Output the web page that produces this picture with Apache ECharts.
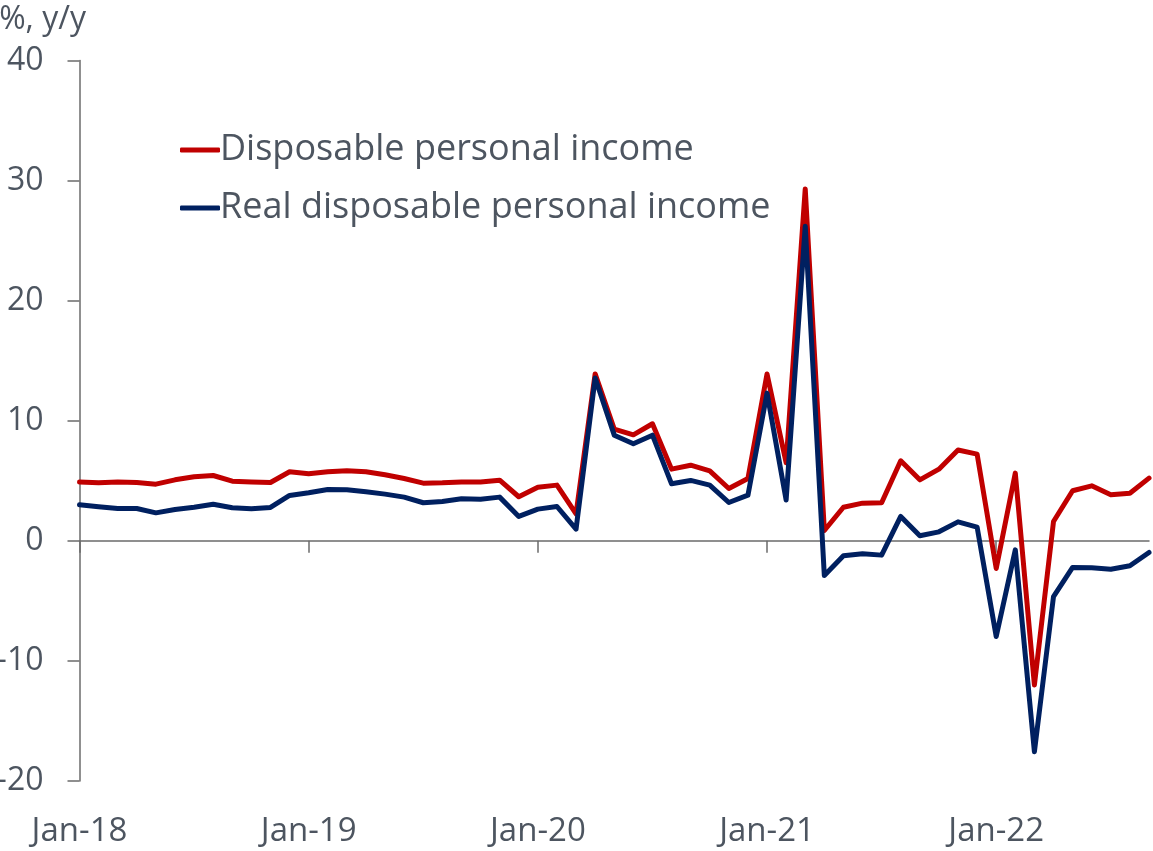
<!DOCTYPE html>
<html>
<head>
<meta charset="utf-8">
<script src="https://cdn.jsdelivr.net/npm/echarts@6/dist/echarts.min.js"></script>
<style>
  html, body { margin: 0; padding: 0; background: #fff; }
  #chart { width: 1153px; height: 851px; }
</style>
</head>
<body>
<div id="chart"></div>
<script>
// Monthly categories, Jan-18 .. Sep-22
const months = [
  'Jan-18','Feb-18','Mar-18','Apr-18','May-18','Jun-18','Jul-18','Aug-18','Sep-18','Oct-18','Nov-18','Dec-18',
  'Jan-19','Feb-19','Mar-19','Apr-19','May-19','Jun-19','Jul-19','Aug-19','Sep-19','Oct-19','Nov-19','Dec-19',
  'Jan-20','Feb-20','Mar-20','Apr-20','May-20','Jun-20','Jul-20','Aug-20','Sep-20','Oct-20','Nov-20','Dec-20',
  'Jan-21','Feb-21','Mar-21','Apr-21','May-21','Jun-21','Jul-21','Aug-21','Sep-21','Oct-21','Nov-21','Dec-21',
  'Jan-22','Feb-22','Mar-22','Apr-22','May-22','Jun-22','Jul-22','Aug-22','Sep-22'
];

// Disposable personal income, % y/y
const disposableIncome = [
  4.9, 4.83, 4.9, 4.86, 4.72, 5.08, 5.33, 5.44, 4.97, 4.9, 4.86, 5.75,
  5.58, 5.75, 5.83, 5.75, 5.5, 5.19, 4.8, 4.83, 4.9, 4.9, 5.05, 3.67,
  4.47, 4.64, 2.25, 13.9, 9.3, 8.83, 9.75, 5.97, 6.3, 5.83, 4.36, 5.19,
  13.9, 6.5, 29.3, 0.86, 2.8, 3.14, 3.17, 6.67, 5.08, 5.97, 7.56, 7.22,
  -2.3, 5.64, -12.0, 1.61, 4.17, 4.58, 3.83, 3.97, 5.22
];

// Real disposable personal income, % y/y
const realDisposableIncome = [
  3.0, 2.83, 2.69, 2.69, 2.33, 2.61, 2.8, 3.05, 2.75, 2.67, 2.78, 3.78,
  4.0, 4.28, 4.25, 4.08, 3.89, 3.64, 3.17, 3.28, 3.5, 3.47, 3.64, 2.03,
  2.64, 2.86, 0.97, 13.56, 8.8, 8.08, 8.8, 4.75, 5.03, 4.64, 3.19, 3.8,
  12.3, 3.4, 26.2, -2.89, -1.25, -1.08, -1.19, 2.03, 0.42, 0.75, 1.58, 1.14,
  -7.97, -0.75, -17.56, -4.64, -2.22, -2.25, -2.36, -2.08, -0.97
];

const seriesNames = ['Disposable personal income', 'Real disposable personal income'];
const yTicks = { min: -20, max: 40, step: 10 };
const unitLabel = '%, y/y';

const FONT = '"Open Sans", "Noto Sans", sans-serif';
const TEXT = '#4d5560';
const AXIS = '#6b6b6b';
const isJan = (idx) => idx % 12 === 0;

const chart = echarts.init(document.getElementById('chart'), null, { renderer: 'canvas' });
chart.setOption({
  animation: false,
  backgroundColor: '#ffffff',
  grid: {
    left: 79.5, right: 4, top: 60.5, bottom: 70,
    containLabel: false,
    outerBoundsMode: 'none'
  },
  graphic: [{
    type: 'text',
    x: 86,
    y: 20,
    style: {
      text: unitLabel,
      font: '32px ' + FONT,
      fill: TEXT,
      textAlign: 'right',
      textVerticalAlign: 'middle'
    }
  }],
  legend: {
    orient: 'vertical',
    left: 175,
    top: 127,
    itemWidth: 40,
    itemHeight: 5,
    itemGap: 22,
    icon: 'roundRect',
    textStyle: { fontFamily: FONT, fontSize: 36, color: TEXT, lineHeight: 36, padding: [0, 0, 0, -5] },
    data: seriesNames
  },
  xAxis: [
    {
      type: 'category',
      data: months,
      boundaryGap: false,
      axisLine: { onZero: true, lineStyle: { color: AXIS, width: 1.5 } },
      axisTick: { show: true, interval: isJan, length: 12, lineStyle: { color: AXIS, width: 1.5 } },
      axisLabel: { show: false },
      splitLine: { show: false }
    },
    {
      type: 'category',
      data: months,
      boundaryGap: false,
      position: 'bottom',
      axisLine: { show: false, onZero: false },
      axisTick: { show: false },
      axisLabel: {
        interval: isJan,
        margin: 34,
        fontFamily: FONT,
        fontSize: 33,
        color: TEXT
      },
      splitLine: { show: false }
    }
  ],
  yAxis: {
    type: 'value',
    min: yTicks.min,
    max: yTicks.max,
    interval: yTicks.step,
    axisLine: { show: true, lineStyle: { color: AXIS, width: 1.5 } },
    axisTick: { show: true, length: 12, lineStyle: { color: AXIS, width: 1.5 } },
    axisLabel: { margin: 36, fontFamily: FONT, fontSize: 32, color: TEXT },
    splitLine: { show: false }
  },
  series: [
    {
      name: seriesNames[0],
      type: 'line',
      xAxisIndex: 0,
      data: disposableIncome,
      symbol: 'none',
      color: '#c00000',
      lineStyle: { width: 5, color: '#c00000', join: 'round', cap: 'round' }
    },
    {
      name: seriesNames[1],
      type: 'line',
      xAxisIndex: 0,
      data: realDisposableIncome,
      symbol: 'none',
      color: '#002060',
      lineStyle: { width: 5, color: '#002060', join: 'round', cap: 'round' }
    }
  ]
});
</script>
</body>
</html>
